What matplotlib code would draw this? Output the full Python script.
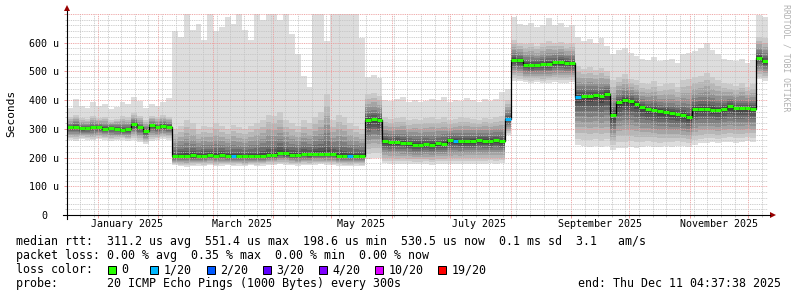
import datetime as dt
import matplotlib
matplotlib.use('Agg')
import matplotlib.pyplot as plt
import matplotlib.dates as mdates
from matplotlib.lines import Line2D
from matplotlib.patches import Rectangle, Polygon
from matplotlib.ticker import MultipleLocator
import numpy as np

W, H = 797, 297
MONO = 'DejaVu Sans Mono'

# time axis: last 360 days, one value every 3 days
end = dt.datetime(2025, 12, 11, 4, 37, 38)
start = end - dt.timedelta(days=360)
step_days = 3

# median rtt in microseconds
median = [305, 308, 302, 303, 305, 306, 300, 304, 300, 297, 298, 316, 305, 292, 314, 306, 310, 308,
          204, 207, 206, 208, 206, 207, 209, 207, 208, 206, 205, 207, 204, 206, 205, 207, 209, 210,
          216, 215, 210, 208, 212, 211, 213, 212, 212, 213, 207, 206, 205, 206, 206,
          332, 336, 331,
          256, 254, 255, 251, 250, 245, 244, 246, 244, 250, 249, 260, 259, 256, 257, 258, 261, 259,
          258, 260, 257,
          334,
          541, 539, 524, 522, 523, 526, 527, 532, 533, 531, 528,
          412, 416, 414, 417, 413, 423,
          347,
          392, 400, 396, 388, 375, 368, 366, 362, 358, 355, 352, 348, 340, 368, 370, 368, 367, 365,
          370, 378, 372, 371, 373, 370,
          548, 536]

# fastest ping (bottom of the smoke)
ping_min = [262, 258, 265, 262, 260, 263, 262, 258, 260, 262, 258, 262, 255, 248, 258, 262, 265, 262,
            175, 170, 168, 170, 172, 171, 173, 170, 172, 174, 171, 172, 170, 173, 171, 172, 175, 174,
            176, 175, 173, 172, 174, 173, 175, 176, 175, 174, 172, 171, 170, 172, 171,
            195, 200, 200,
            180, 178, 177, 179, 178, 176, 177, 178, 175, 177, 178, 176, 178, 177, 179, 178, 177, 178,
            180, 179, 181,
            280,
            468, 466, 462, 460, 462, 458, 460, 462, 460, 461, 463,
            245, 240, 238, 242, 236, 240,
            228,
            235, 232, 236, 234, 238, 240, 238, 236, 240, 238, 242, 240, 238, 244, 250, 252, 255, 250,
            253, 255, 252, 254, 256, 255,
            472, 468]

# slowest ping (top of the light smoke)
ping_max = [372, 405, 380, 372, 395, 378, 385, 368, 375, 392, 385, 412, 398, 372, 388, 378, 392, 408,
            640, 620, 720, 645, 665, 610, 720, 640, 655, 690, 665, 720, 645, 610, 720, 680, 720, 720,
            680, 720, 630, 560, 485, 445, 720, 720, 605, 720, 720, 720, 720, 720, 615,
            480, 488, 478,
            400, 398, 405, 412, 395, 400, 392, 398, 405, 400, 410, 395, 402, 398, 408, 400, 395, 403,
            398, 405, 430,
            440,
            690, 665, 660, 670, 655, 660, 685, 662, 668, 655, 660,
            620, 605, 612, 600, 615, 590,
            560,
            575, 580, 565, 555, 545, 540, 550, 535, 540, 545, 530, 560, 565, 570, 580, 600, 575, 560,
            545, 540, 535, 545, 530, 540,
            695, 690]

# top of the denser smoke
ping_upper = [340, 350, 338, 335, 345, 338, 342, 330, 335, 345, 340, 355, 345, 330, 345, 340, 348, 342,
              300, 310, 330, 320, 300, 310, 305, 320, 310, 300, 315, 305, 300, 310, 320, 330, 350, 345,
              360, 330, 320, 310, 330, 320, 340, 360, 420, 330, 350, 340, 320, 310, 300,
              420, 425, 415,
              340, 335, 338, 342, 330, 335, 332, 338, 340, 335, 342, 330, 336, 340, 338, 335, 332, 338,
              335, 340, 345,
              400,
              610, 600, 595, 600, 590, 598, 605, 600, 602, 595, 598,
              520, 510, 515, 505, 512, 500,
              470,
              480, 490, 475, 470, 460, 455, 465, 450, 455, 460, 445, 470, 475, 480, 485, 495, 480, 470,
              460, 455, 450, 460, 445, 455,
              620, 615]

# lost pings out of 20
loss = [0, 0, 0, 0, 0, 0, 0, 0, 0, 0, 0, 0, 0, 0, 0, 0, 0, 0,
        0, 0, 0, 0, 0, 0, 0, 0, 0, 0, 1, 0, 0, 0, 0, 0, 0, 0,
        0, 0, 0, 0, 0, 0, 0, 0, 0, 0, 0, 0, 1, 0, 0,
        0, 0, 0,
        0, 0, 0, 0, 0, 0, 0, 0, 0, 0, 0, 0, 1, 0, 0, 0, 0, 0,
        0, 0, 0,
        1,
        0, 0, 0, 0, 0, 0, 0, 0, 0, 0, 0,
        1, 0, 0, 0, 0, 0,
        0,
        0, 0, 0, 0, 0, 0, 0, 0, 0, 0, 0, 0, 0, 0, 0, 0, 0, 0,
        0, 0, 0, 0, 0, 0,
        0, 0]

loss_labels = ['0', '1/20', '2/20', '3/20', '4/20', '10/20', '19/20']
loss_colors = ['#26ff00', '#00b8ff', '#0059ff', '#5e00ff', '#7e00ff', '#dd00ff', '#ff0000']
loss_color_of = {0: '#26ff00', 1: '#00b8ff', 2: '#0059ff', 3: '#5e00ff', 4: '#7e00ff',
                 10: '#dd00ff', 19: '#ff0000'}

stats_line = "median rtt:  311.2 us avg  551.4 us max  198.6 us min  530.5 us now  0.1 ms sd  3.1   am/s"
loss_line = "packet loss: 0.00 % avg  0.35 % max  0.00 % min  0.00 % now"
probe_line = "probe:       20 ICMP Echo Pings (1000 Bytes) every 300s"
end_line = "end: Thu Dec 11 04:37:38 2025"

month_labels = [(dt.datetime(2025, m, 16), dt.datetime(2025, m, 1).strftime('%B %Y'))
                for m in (1, 3, 5, 7, 9, 11)]


def fx(x):
    return x / W


def fy(y):
    return 1 - y / H


fig = plt.figure(figsize=(W / 100, H / 100), dpi=100, facecolor='white')
ax = fig.add_axes([fx(67), fy(215), 701 / W, 201 / H])
ax.set_facecolor('white')

n = len(median)
edges = mdates.date2num([start + dt.timedelta(days=step_days * k) for k in range(n + 1)])
med = np.array(median, float)
lo = np.array(ping_min, float)
hi = np.array(ping_max, float)
up = np.array(ping_upper, float)


def ext(a):
    return np.append(a, a[-1])


# smoke: 10 layers, lightest outside, darkest at the median
for i in range(1, 11):
    g = (50 + 19 * (10 - i)) / 255
    lower = med - (med - lo) * ((11 - i) / 10) ** 1.3
    if i == 1:
        upper = hi
    else:
        upper = med + (up - med) * ((11 - i) / 9) ** 1.8
    ax.fill_between(edges, ext(lower), ext(upper), step='post', color=(g, g, g), lw=0, zorder=1)

# median
ax.step(edges, ext(med), where='post', color='black', lw=0.9, zorder=3)
ax.hlines(med, edges[:-1], edges[1:], colors=[loss_color_of[v] for v in loss], lw=2.2, zorder=4)

ax.set_xlim(mdates.date2num(start), mdates.date2num(end))
ax.set_ylim(0, 700)

ax.xaxis.set_major_locator(mdates.MonthLocator())
ax.xaxis.set_minor_locator(mdates.WeekdayLocator(byweekday=mdates.MO))
ax.yaxis.set_major_locator(MultipleLocator(100))
ax.yaxis.set_minor_locator(MultipleLocator(20))
ax.set_axisbelow(False)
ax.grid(which='minor', color='#c4c4c4', ls=(0, (1, 1)), lw=0.65)
ax.grid(which='major', color='#ec9a9a', ls=(0, (1, 1)), lw=0.65)
ax.tick_params(which='major', length=2.2, width=0.72, color='#ec9a9a', direction='out',
               labelbottom=False, labelleft=False)
ax.tick_params(which='minor', length=1.4, width=0.72, color='#c4c4c4', direction='out')
for s in ax.spines.values():
    s.set_visible(False)

# tick labels
for v in range(0, 701, 100):
    if v > 600:
        continue
    label = '0' if v == 0 else '%d u' % v
    off = -20 if v == 0 else -8
    ax.annotate(label, xy=(0, v), xycoords=('axes fraction', 'data'), xytext=(off, 0),
                textcoords='offset pixels', ha='right', va='center_baseline',
                family=MONO, fontsize=7.2, annotation_clip=False)
for d, label in month_labels:
    ax.annotate(label, xy=(mdates.date2num(d), 0), xycoords=('data', 'axes fraction'),
                xytext=(0, -12), textcoords='offset pixels', ha='center', va='baseline',
                family=MONO, fontsize=7.2, annotation_clip=False)

# axes with arrows
fig.add_artist(Line2D([fx(63), fx(770)], [fy(215), fy(215)], color='black', lw=0.8))
fig.add_artist(Line2D([fx(67), fx(67)], [fy(219), fy(11)], color='black', lw=0.8))
fig.add_artist(Polygon([(fx(770), fy(212)), (fx(776), fy(215)), (fx(770), fy(218))],
                       closed=True, color='#990000', lw=0))
fig.add_artist(Polygon([(fx(64), fy(11)), (fx(67), fy(5)), (fx(70), fy(11))],
                       closed=True, color='#990000', lw=0))

fig.text(fx(11), fy(113), 'Seconds', rotation=90, ha='center', va='center',
         family=MONO, fontsize=8.0)
fig.text(fx(786), fy(4), 'RRDTOOL / TOBI OETIKER', rotation=-90, ha='center', va='top',
         family=MONO, fontsize=5.9, color='#b0b0b0')

# legend
cw = 8.4 * 100 / 72 * 0.6021
x0 = 16
fig.text(fx(x0), fy(244.5), stats_line, family=MONO, fontsize=8.4, va='baseline')
fig.text(fx(x0), fy(258.8), loss_line, family=MONO, fontsize=8.4, va='baseline')
fig.text(fx(x0), fy(273.1), 'loss color:', family=MONO, fontsize=8.4, va='baseline')
pos = 13
for label, col in zip(loss_labels, loss_colors):
    sx = x0 + pos * cw + 1
    fig.add_artist(Rectangle((fx(sx), fy(273.5)), 8 / W, 8 / H, facecolor=col,
                             edgecolor='black', lw=0.72))
    fig.text(fx(x0 + (pos + 2) * cw), fy(273.1), label, family=MONO, fontsize=8.4, va='baseline')
    pos = pos + 2 + max(len(label), 2) + 2
fig.text(fx(x0), fy(287.4), probe_line, family=MONO, fontsize=8.4, va='baseline')
fig.text(fx(781), fy(287.4), end_line, family=MONO, fontsize=8.4, va='baseline', ha='right')

fig.savefig('out.png', dpi=100, facecolor='white')
